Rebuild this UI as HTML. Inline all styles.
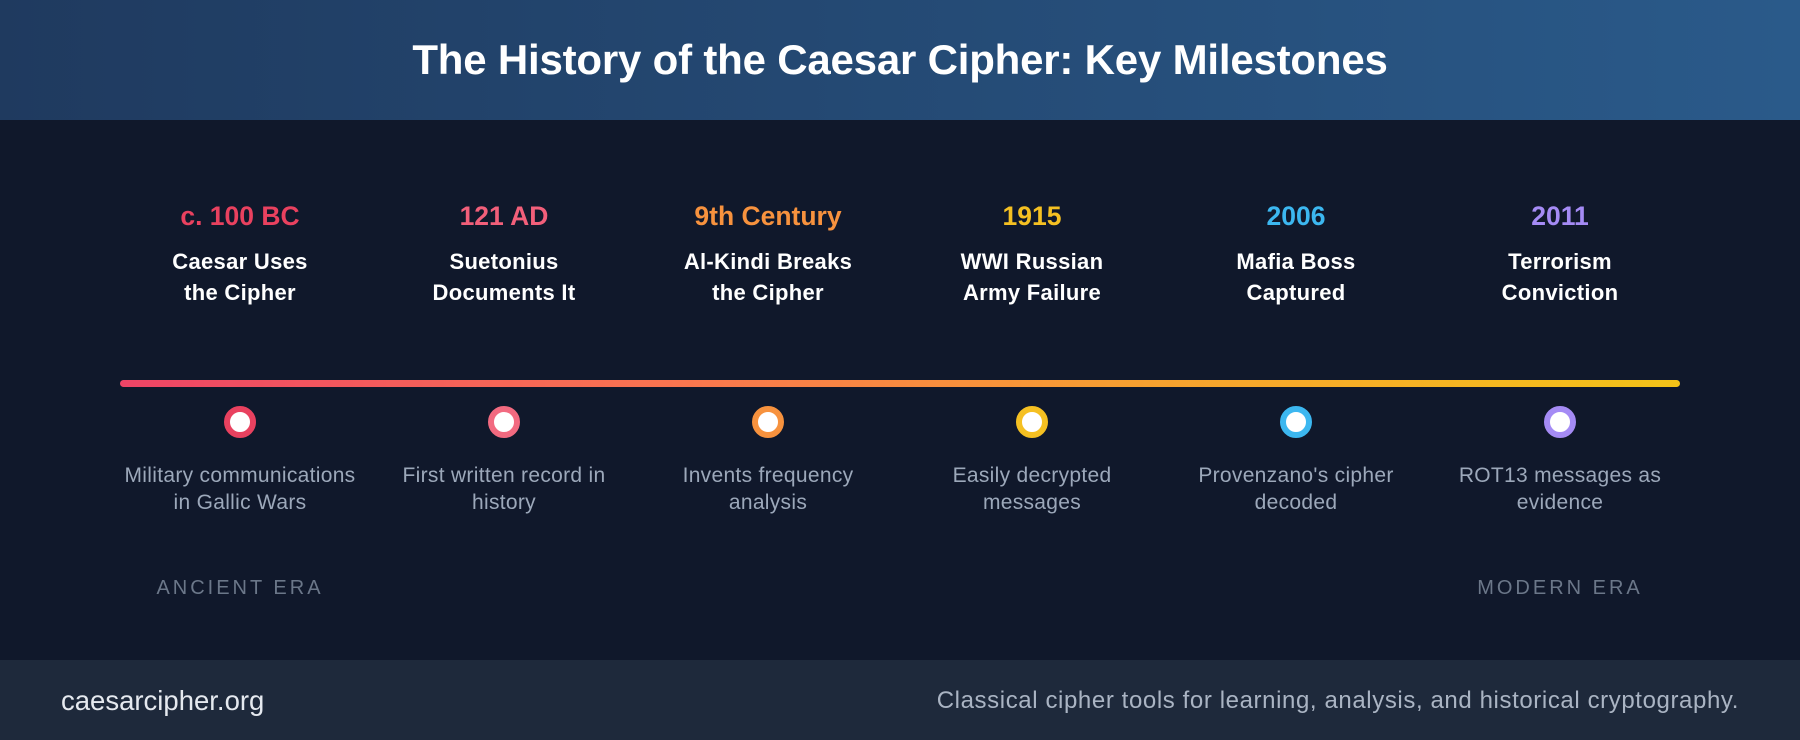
<!DOCTYPE html>
<html><head><meta charset="utf-8"><style>
*{margin:0;padding:0;box-sizing:border-box}
body{width:1800px;height:740px;background:#10182b;font-family:"Liberation Sans",sans-serif;position:relative;overflow:hidden}
.hdr{position:absolute;left:0;top:0;width:1800px;height:120px;background:linear-gradient(90deg,#1f3a5f,#2a5a8a)}
.hdr h1{position:absolute;left:0;width:1800px;top:36px;text-align:center;color:#fff;font-size:42px;font-weight:bold;letter-spacing:-0.2px}
.col{position:absolute;width:264px;text-align:center}
.date{top:201px;font-size:26.5px;font-weight:bold}
.ttl{top:246px;color:#fff;font-size:22px;font-weight:bold;line-height:31px;letter-spacing:0.3px}
.desc{top:462px;color:#9ca8ba;font-size:21px;line-height:27px;letter-spacing:0.3px}
.line{position:absolute;left:120px;top:380px;width:1560px;height:7px;border-radius:4px;background:linear-gradient(90deg,#ee4466,#f97450 35%,#f7a030 65%,#f4c318)}
.dot{position:absolute;top:406px;width:32px;height:32px;border-radius:50%;border:6px solid;background:#fff}
.era{position:absolute;top:577px;color:#6b7789;font-size:20px;letter-spacing:3px;width:264px;text-align:center}
.ftr{position:absolute;left:0;top:660px;width:1800px;height:80px;background:#1e293b}
.fl{position:absolute;left:61px;top:685px;color:#e5e9ef;font-size:27.5px}
.fr{position:absolute;right:61px;top:687px;color:#aab4c3;font-size:24px;letter-spacing:0.6px}
</style></head><body>
<div class="hdr"><h1>The History of the Caesar Cipher: Key Milestones</h1></div>

<div class="col date" style="left:108px;color:#e9415f">c. 100 BC</div>
<div class="col date" style="left:372px;color:#f25f7a">121 AD</div>
<div class="col date" style="left:636px;color:#f7923e">9th Century</div>
<div class="col date" style="left:900px;color:#f5c022">1915</div>
<div class="col date" style="left:1164px;color:#3cb7f0">2006</div>
<div class="col date" style="left:1428px;color:#a58bf5">2011</div>

<div class="col ttl" style="left:108px">Caesar Uses<br>the Cipher</div>
<div class="col ttl" style="left:372px">Suetonius<br>Documents It</div>
<div class="col ttl" style="left:636px">Al-Kindi Breaks<br>the Cipher</div>
<div class="col ttl" style="left:900px">WWI Russian<br>Army Failure</div>
<div class="col ttl" style="left:1164px">Mafia Boss<br>Captured</div>
<div class="col ttl" style="left:1428px">Terrorism<br>Conviction</div>

<div class="line"></div>
<div class="dot" style="left:224px;border-color:#e9415f"></div>
<div class="dot" style="left:488px;border-color:#f26a80"></div>
<div class="dot" style="left:752px;border-color:#f7923e"></div>
<div class="dot" style="left:1016px;border-color:#f5c022"></div>
<div class="dot" style="left:1280px;border-color:#3cb7f0"></div>
<div class="dot" style="left:1544px;border-color:#a58bf5"></div>

<div class="col desc" style="left:90px;width:300px">Military communications<br>in Gallic Wars</div>
<div class="col desc" style="left:354px;width:300px">First written record in<br>history</div>
<div class="col desc" style="left:618px;width:300px">Invents frequency<br>analysis</div>
<div class="col desc" style="left:882px;width:300px">Easily decrypted<br>messages</div>
<div class="col desc" style="left:1146px;width:300px">Provenzano's cipher<br>decoded</div>
<div class="col desc" style="left:1410px;width:300px">ROT13 messages as<br>evidence</div>

<div class="era" style="left:108px">ANCIENT ERA</div>
<div class="era" style="left:1428px">MODERN ERA</div>

<div class="ftr"></div>
<div class="fl">caesarcipher.org</div>
<div class="fr">Classical cipher tools for learning, analysis, and historical cryptography.</div>
</body></html>
